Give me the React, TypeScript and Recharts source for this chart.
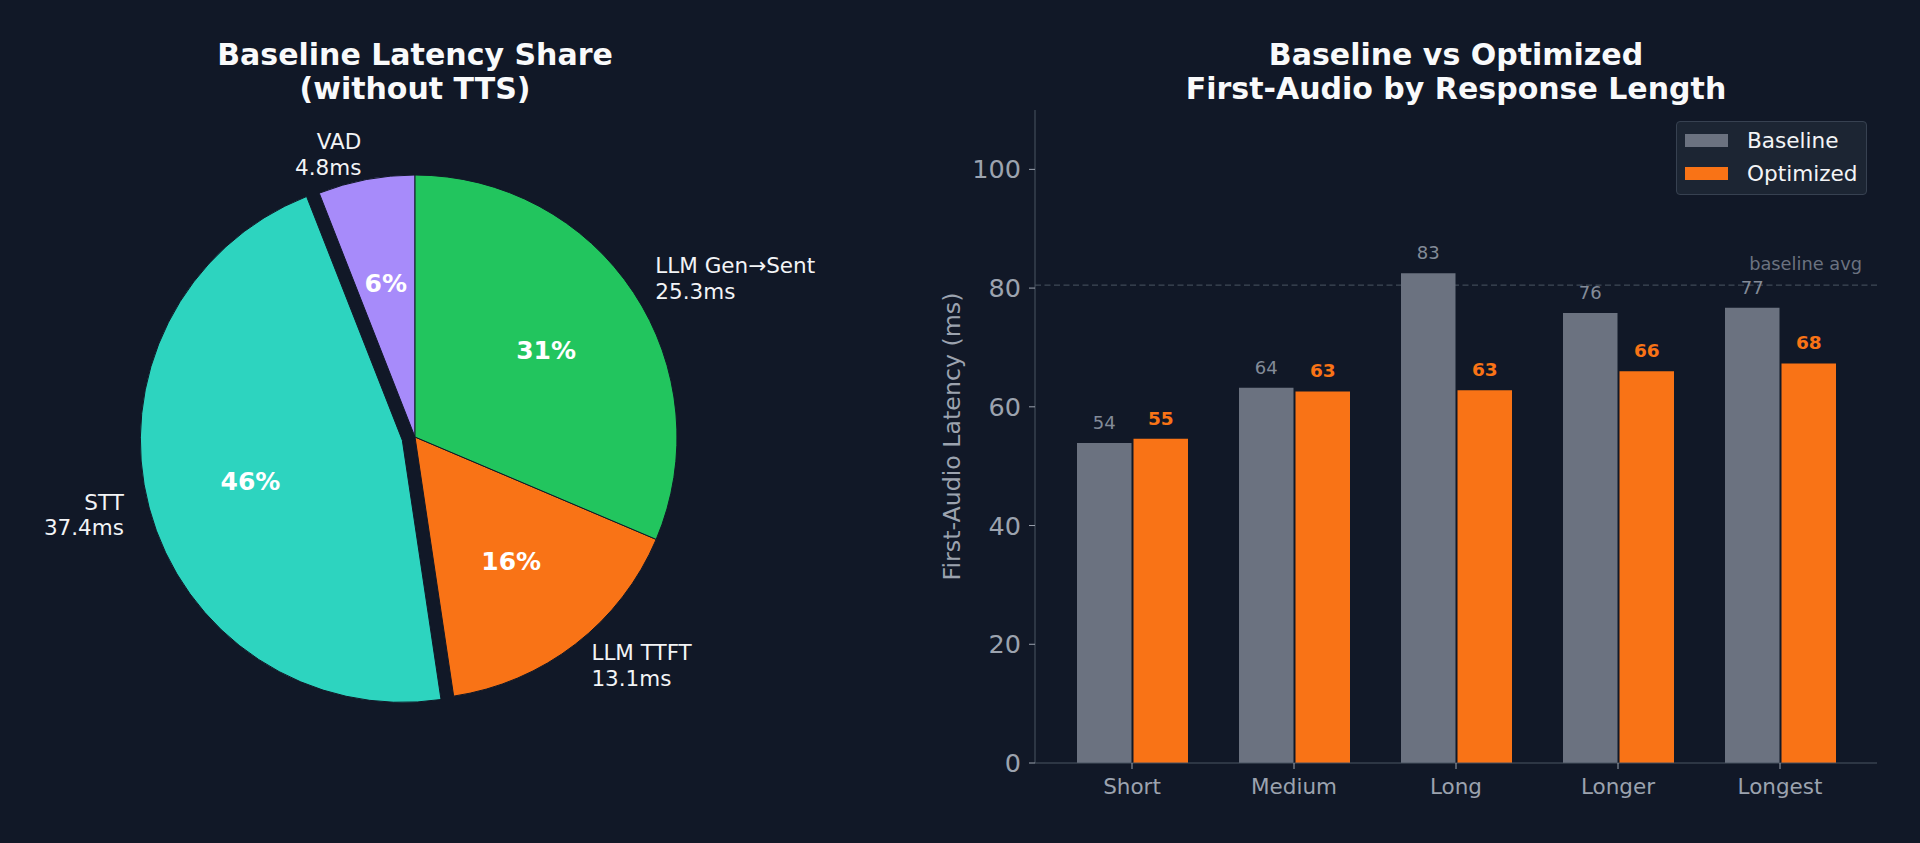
import {
  PieChart,
  Pie,
  Cell,
  BarChart,
  Bar,
  XAxis,
  YAxis,
  ReferenceLine,
  LabelList,
  Legend,
} from 'recharts';

// ---------------------------------------------------------------------------
// Data
// ---------------------------------------------------------------------------

// Pie slices, in drawing order (counter-clockwise from 12 o'clock)
const stageNames = ['VAD', 'STT', 'LLM TTFT', 'LLM Gen→Sent'];
const stageMs = [4.8, 37.4, 13.1, 25.3];
const stageColors = ['#a78bfa', '#2dd4bf', '#f97316', '#22c55e'];
const explodedStage = 'STT';

// Bar chart
const categories = ['Short', 'Medium', 'Long', 'Longer', 'Longest'];
const baselineMs = [53.9, 63.2, 82.5, 75.8, 76.7];
const optimizedMs = [54.6, 62.6, 62.8, 66.0, 67.3];
const baselineLabels = ['54', '64', '83', '76', '77'];
const optimizedLabels = ['55', '63', '63', '66', '68'];
const baselineAvg = 80.5;
const yTicks = [0, 20, 40, 60, 80, 100];

// ---------------------------------------------------------------------------
// Style
// ---------------------------------------------------------------------------

const BG = '#111827';
const GRAY = '#6b7280';
const ORANGE = '#f97316';
const MUTED = '#9ca3af';
const TEXT = '#f3f4f6';
const FONT = '"DejaVu Sans", Verdana, sans-serif';
const RAD = Math.PI / 180;

const PIE_CX = 415;
const PIE_CY = 437;
const PIE_R = 262;
const EXPLODE = 0.05;

const pieRows = stageNames.map((name, i) => ({ name, value: stageMs[i] }));

// offset of the exploded slice, along its mid angle
const total = stageMs.reduce((a, b) => a + b, 0);
const exIdx = stageNames.indexOf(explodedStage);
const exBefore = stageMs.slice(0, exIdx).reduce((a, b) => a + b, 0);
const exMid = 90 + ((exBefore + stageMs[exIdx] / 2) / total) * 360;
const exDx = EXPLODE * PIE_R * Math.cos(exMid * RAD);
const exDy = -EXPLODE * PIE_R * Math.sin(exMid * RAD);

const barRows = categories.map((category, i) => ({
  category,
  baseline: baselineMs[i],
  optimized: optimizedMs[i],
  baselineLabel: baselineLabels[i],
  optimizedLabel: optimizedLabels[i],
}));

// ---------------------------------------------------------------------------
// Pie labels (name + ms outside, percent inside)
// ---------------------------------------------------------------------------

const pieLabel = (exploded: boolean) => (p: any) => {
  const name = stageNames[p.index];
  if ((name === explodedStage) !== exploded) return null;
  const a = -p.midAngle * RAD;
  const r1 = p.outerRadius * 1.1;
  const lx = p.cx + r1 * Math.cos(a);
  const ly = p.cy + r1 * Math.sin(a);
  const r2 = p.outerRadius * 0.6;
  const px = p.cx + r2 * Math.cos(a);
  const py = p.cy + r2 * Math.sin(a);
  const anchor = lx >= p.cx ? 'start' : 'end';
  const lh = 25.8;
  return (
    <g key={`lbl-${p.index}`}>
      <text x={lx} y={ly} textAnchor={anchor} fill={TEXT} fontSize={21.5} fontFamily={FONT}>
        <tspan x={lx} y={ly - lh / 2 + 7.8}>{name}</tspan>
        <tspan x={lx} y={ly + lh / 2 + 7.8}>{stageMs[p.index].toFixed(1)}ms</tspan>
      </text>
      <text x={px} y={py + 9} textAnchor="middle" fill="#ffffff" fontSize={25} fontWeight="bold" fontFamily={FONT}>
        {Math.round(p.percent * 100)}%
      </text>
    </g>
  );
};

// ---------------------------------------------------------------------------
// Legend box
// ---------------------------------------------------------------------------

function LegendBox({ payload }: any) {
  const items = (payload ?? []).map((e: any) => ({ label: e.value, color: e.color }));
  return (
    <div
      style={{
        boxSizing: 'border-box',
        width: 191,
        height: 74,
        background: 'rgba(31,41,55,0.8)',
        border: '1px solid #374151',
        borderRadius: 4,
        padding: '2px 0 6px 8px',
        fontFamily: FONT,
      }}
    >
      {items.map((it: any) => (
        <div key={it.label} style={{ display: 'flex', alignItems: 'center', height: 33 }}>
          <span style={{ width: 43, height: 13, background: it.color, marginRight: 19, display: 'inline-block' }} />
          <span style={{ fontSize: 21.6, color: TEXT, lineHeight: '33px' }}>{it.label}</span>
        </div>
      ))}
    </div>
  );
}

const titleStyle: React.CSSProperties = {
  position: 'absolute',
  top: 38,
  width: 700,
  textAlign: 'center',
  color: '#f9fafb',
  fontWeight: 'bold',
  fontSize: 30,
  lineHeight: '34px',
  fontFamily: FONT,
};

// ---------------------------------------------------------------------------
// App
// ---------------------------------------------------------------------------

export default function App() {
  return (
    <div
      style={{
        position: 'absolute',
        left: 0,
        top: 0,
        width: 1920,
        height: 843,
        background: BG,
        fontFamily: FONT,
        overflow: 'hidden',
      }}
    >
      <div style={{ ...titleStyle, left: PIE_CX - 350 }}>
        Baseline Latency Share
        <br />
        (without TTS)
      </div>
      <div style={{ ...titleStyle, left: 1456 - 350 }}>
        Baseline vs Optimized
        <br />
        First-Audio by Response Length
      </div>

      {/* Pie */}
      <div style={{ position: 'absolute', left: 0, top: 0 }}>
        <PieChart width={960} height={843} margin={{ top: 0, right: 0, bottom: 0, left: 0 }}>
          <Pie
            data={pieRows}
            dataKey="value"
            nameKey="name"
            cx={PIE_CX}
            cy={PIE_CY}
            outerRadius={PIE_R}
            startAngle={90}
            endAngle={450}
            stroke={BG}
            strokeWidth={1}
            label={pieLabel(false)}
            labelLine={false}
            isAnimationActive={false}
          >
            {pieRows.map((r, i) => (
              <Cell
                key={r.name}
                fill={r.name === explodedStage ? 'transparent' : stageColors[i]}
                stroke={r.name === explodedStage ? 'none' : BG}
              />
            ))}
          </Pie>
          <Pie
            data={pieRows}
            dataKey="value"
            nameKey="name"
            cx={PIE_CX + exDx}
            cy={PIE_CY + exDy}
            outerRadius={PIE_R}
            startAngle={90}
            endAngle={450}
            stroke={BG}
            strokeWidth={1}
            label={pieLabel(true)}
            labelLine={false}
            isAnimationActive={false}
          >
            {pieRows.map((r, i) => (
              <Cell
                key={r.name}
                fill={r.name === explodedStage ? stageColors[i] : 'transparent'}
                stroke={r.name === explodedStage ? BG : 'none'}
              />
            ))}
          </Pie>
        </PieChart>
      </div>

      {/* Bars */}
      <div style={{ position: 'absolute', left: 920, top: 0 }}>
        <BarChart
          width={1000}
          height={843}
          data={barRows}
          margin={{ top: 110, right: 43, bottom: 0, left: 0 }}
          barGap={2}
          barSize={54.5}
        >
          <XAxis
            dataKey="category"
            height={80}
            padding={{ left: 16, right: 16 }}
            interval={0}
            tickSize={6}
            tickMargin={10}
            axisLine={{ stroke: '#4b5563' }}
            tickLine={{ stroke: MUTED }}
            tick={{ fill: MUTED, fontSize: 21.5, fontFamily: FONT }}
          />
          <YAxis
            width={115}
            domain={[0, 110]}
            ticks={yTicks}
            tickSize={6}
            tickMargin={8}
            axisLine={{ stroke: '#4b5563' }}
            tickLine={{ stroke: MUTED }}
            tick={{ fill: MUTED, fontSize: 25.5, fontFamily: FONT }}
            label={(props: any) => {
              const vb = props.viewBox ?? {};
              const x = (vb.x ?? 0) + 32;
              const y = (vb.y ?? 110) + (vb.height ?? 653) / 2;
              return (
                <text
                  x={x}
                  y={y}
                  transform={`rotate(-90, ${x}, ${y})`}
                  textAnchor="middle"
                  dominantBaseline="central"
                  fill={MUTED}
                  fontSize={23.7}
                  fontFamily={FONT}
                >
                  First-Audio Latency (ms)
                </text>
              );
            }}
          />
          <ReferenceLine
            y={baselineAvg}
            stroke="#4b5563"
            strokeDasharray="6 3.5"
            zIndex={250}
            label={{
              value: 'baseline avg',
              position: 'insideBottomRight',
              offset: 15,
              fill: GRAY,
              fontSize: 17.8,
              fontFamily: FONT,
            }}
          />
          <Bar dataKey="baseline" name="Baseline" fill={GRAY} isAnimationActive={false}>
            <LabelList dataKey="baselineLabel" position="top" offset={14} fill="#838b98" fontSize={18} fontFamily={FONT} />
          </Bar>
          <Bar dataKey="optimized" name="Optimized" fill={ORANGE} isAnimationActive={false}>
            <LabelList
              dataKey="optimizedLabel"
              position="top"
              offset={14}
              fill={ORANGE}
              fontSize={18.5}
              fontWeight="bold"
              fontFamily={FONT}
            />
          </Bar>
          <Legend
            layout="vertical"
            align="center"
            verticalAlign="middle"
            content={<LegendBox />}
            wrapperStyle={{ top: 121, left: 756, width: 191, height: 74 }}
          />
        </BarChart>
      </div>
    </div>
  );
}
